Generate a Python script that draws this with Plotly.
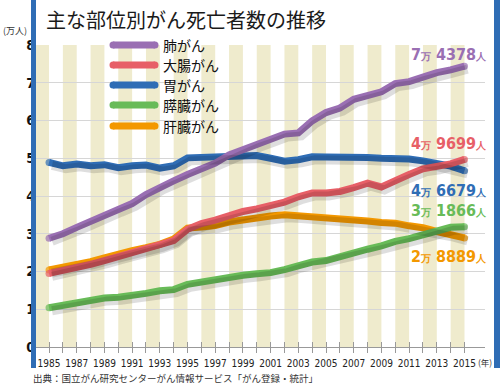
import plotly.graph_objects as go

# ---- data (万人) ----
years = list(range(1985, 2016))

lung = [2.88, 3.00, 3.17, 3.33, 3.51, 3.65, 3.80, 4.04, 4.24, 4.40,
        4.57, 4.71, 4.87, 5.09, 5.22, 5.37, 5.50, 5.64, 5.67, 5.99,
        6.21, 6.33, 6.56, 6.68, 6.76, 6.98, 7.03, 7.15, 7.27, 7.34, 7.4378]
colon = [1.95, 2.02, 2.10, 2.19, 2.29, 2.39, 2.48, 2.58, 2.68, 2.82,
         3.12, 3.27, 3.36, 3.49, 3.59, 3.66, 3.75, 3.84, 3.98, 4.08,
         4.08, 4.12, 4.22, 4.34, 4.24, 4.42, 4.57, 4.72, 4.77, 4.85, 4.9699]
stomach = [4.89, 4.80, 4.85, 4.80, 4.83, 4.75, 4.80, 4.82, 4.74, 4.80,
           5.01, 5.02, 5.02, 5.04, 5.07, 5.07, 5.00, 4.92, 4.96, 5.04,
           5.03, 5.04, 5.04, 5.02, 5.00, 5.01, 4.98, 4.93, 4.86, 4.79, 4.6679]
pancreas = [1.04, 1.11, 1.19, 1.25, 1.30, 1.32, 1.36, 1.42, 1.49, 1.52,
            1.66, 1.73, 1.77, 1.83, 1.90, 1.94, 1.97, 2.05, 2.17, 2.25,
            2.29, 2.40, 2.48, 2.59, 2.68, 2.80, 2.87, 2.96, 3.06, 3.17, 3.1866]
liver = [2.04, 2.10, 2.18, 2.26, 2.36, 2.47, 2.55, 2.63, 2.72, 2.86,
         3.15, 3.18, 3.22, 3.31, 3.37, 3.40, 3.47, 3.50, 3.48, 3.45,
         3.43, 3.42, 3.38, 3.34, 3.30, 3.28, 3.21, 3.16, 3.06, 2.99, 2.8889]

series_names = ["肺がん", "大腸がん", "胃がん", "膵臓がん", "肝臓がん"]
series_values = [lung, colon, stomach, pancreas, liver]
series_colors = ["#9a6fb3", "#e75f67", "#2f6db5", "#68bb58", "#f39800"]
end_labels = [("7", "4378"), ("4", "9699"), ("4", "6679"), ("3", "1866"), ("2", "8889")]

y_ticks = [0, 1, 2, 3, 4, 5, 6, 7, 8]
x_tick_text = [str(y) if y % 2 == 1 else "" for y in years]

title_text = "主な部位別がん死亡者数の推移"
source_text = "出典：国立がん研究センターがん情報サービス「がん登録・統計」"

# ---- geometry helpers (pixel -> paper) ----
W, H = 500, 390
ML, MR, MT, MB = 36, 15, 45, 43
PW, PH = W - ML - MR, H - MT - MB


def px(xp):
    return (xp - ML) / PW


def py(yp):
    return (H - MB - yp) / PH


XR = [1984.06, 2016.48]
YR = [0, 8]
sx = 3 / (PW / (XR[1] - XR[0]))
sy = 3 / (PH / (YR[1] - YR[0]))

NARROW = "Liberation Sans Narrow, DejaVu Sans Condensed, Arial Narrow, sans-serif"
JP = "Noto Sans CJK JP, sans-serif"

fig = go.Figure()

order = [2, 4, 3, 1, 0]

# shadows
for i in order:
    fig.add_trace(go.Scatter(
        x=years, y=series_values[i], mode="lines", xaxis="x2", yaxis="y2",
        line=dict(color="rgba(0,0,0,0.13)", width=9),
        hoverinfo="skip", showlegend=False))

# lines
for i in order:
    n = len(years)
    fig.add_trace(go.Scatter(
        x=years, y=series_values[i], mode="lines+markers", name=series_names[i],
        line=dict(color=series_colors[i], width=7),
        marker=dict(color=series_colors[i], size=[7] + [0] * (n - 2) + [7], line=dict(width=0)),
        showlegend=False))

# inner ticks helper axis
fig.add_trace(go.Scatter(x=[years[0]], y=[None], xaxis="x3", yaxis="y",
                         mode="lines", showlegend=False, hoverinfo="skip"))

shapes = []
for y in years:
    if y % 2 == 1:
        shapes.append(dict(type="rect", xref="x", yref="y", x0=y - 1, x1=y, y0=YR[0], y1=YR[1],
                           fillcolor="#efebcd", line=dict(width=0), layer="below"))
shapes.append(dict(type="rect", xref="paper", yref="paper", x0=px(31), x1=px(36),
                   y0=py(368), y1=py(0), fillcolor="#2f6db5", line=dict(width=0)))
shapes.append(dict(type="rect", xref="paper", yref="paper", x0=px(494), x1=px(500),
                   y0=py(368), y1=py(0), fillcolor="#2f6db5", line=dict(width=0)))

annotations = []
leg_y = [45, 65, 85, 105, 126]
for i in range(5):
    c = series_colors[i]
    yy = leg_y[i]
    shapes.append(dict(type="rect", xref="paper", yref="paper", x0=px(113), x1=px(155),
                       y0=py(yy + 3.5), y1=py(yy - 3.5), fillcolor=c, line=dict(width=0)))
    for cx in (113, 155):
        shapes.append(dict(type="circle", xref="paper", yref="paper", x0=px(cx - 3.5), x1=px(cx + 3.5),
                           y0=py(yy + 3.5), y1=py(yy - 3.5), fillcolor=c, line=dict(width=0)))
    annotations.append(dict(xref="paper", yref="paper", x=px(161), y=py(yy), text=series_names[i],
                            showarrow=False, xanchor="left", yanchor="middle",
                            font=dict(family=JP, size=14, color="#111")))

end_y = [55, 143, 190, 211, 256]
for i in range(5):
    a, b = end_labels[i]
    txt = (f"<b>{a}</b><span style='font-size:10px'><b>万</b></span>"
           f"<b> {b}</b><span style='font-size:10px'><b>人</b></span>")
    annotations.append(dict(xref="paper", yref="paper", x=px(489), y=py(end_y[i]), text=txt,
                            showarrow=False, xanchor="right", yanchor="middle",
                            font=dict(family=NARROW, size=16, color=series_colors[i])))

annotations.append(dict(xref="paper", yref="paper", x=px(44), y=py(20), text=title_text,
                        showarrow=False, xanchor="left", yanchor="middle",
                        font=dict(family=JP, size=20, color="#1a1a1a")))
annotations.append(dict(xref="paper", yref="paper", x=px(1), y=py(30), text="(万人)",
                        showarrow=False, xanchor="left", yanchor="middle",
                        font=dict(family=JP, size=9, color="#333")))
annotations.append(dict(xref="paper", yref="paper", x=px(476), y=py(362), text="(年)",
                        showarrow=False, xanchor="left", yanchor="middle",
                        font=dict(family=JP, size=8.5, color="#333")))
annotations.append(dict(xref="paper", yref="paper", x=px(31), y=py(378), text=source_text,
                        showarrow=False, xanchor="left", yanchor="middle",
                        font=dict(family=JP, size=9.5, color="#333")))

fig.update_layout(
    width=W, height=H,
    margin=dict(l=ML, r=MR, t=MT, b=MB),
    paper_bgcolor="white", plot_bgcolor="white",
    showlegend=False,
    xaxis=dict(range=XR, tickmode="array", tickvals=years, ticktext=x_tick_text,
               ticks="outside", ticklen=5, tickcolor="#999", showgrid=False,
               showline=True, linecolor="#999", linewidth=1, zeroline=False,
               ticklabelstandoff=2,
               tickfont=dict(family=NARROW, size=10, color="#222"), fixedrange=True),
    xaxis2=dict(range=[XR[0] - sx, XR[1] - sx], overlaying="x", visible=False),
    xaxis3=dict(range=XR, overlaying="x", tickmode="array", tickvals=years,
                ticks="inside", ticklen=5, tickcolor="#999", showticklabels=False,
                showgrid=False, showline=False, zeroline=False, side="bottom"),
    yaxis=dict(range=YR, tickmode="array", tickvals=y_ticks, ticks="",
               showgrid=True, gridcolor="#d6d6d6", gridwidth=1, zeroline=False,
               showline=False,
               tickfont=dict(family=NARROW, size=14, color="#111", weight="bold"),
               fixedrange=True),
    yaxis2=dict(range=[YR[0] + sy, YR[1] + sy], overlaying="y", visible=False),
    shapes=shapes,
    annotations=annotations,
)

fig.write_html("out.html", config={"displayModeBar": False},
               post_script="document.body.style.margin='0';")
